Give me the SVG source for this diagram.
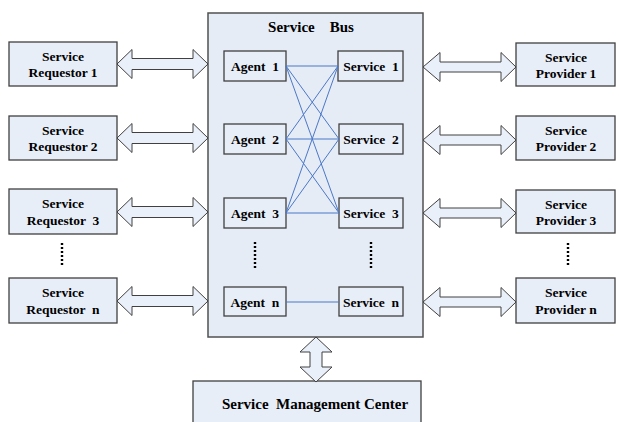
<svg xmlns="http://www.w3.org/2000/svg" width="619" height="422" viewBox="0 0 619 422" font-family="'Liberation Serif', 'Times New Roman', serif">
  <defs>
    <style>
      .box { fill: #e8eef8; stroke: #404040; stroke-width: 1.3; }
      .bus { fill: #e6ecf6; stroke: #505050; stroke-width: 1.5; }
      .arrow { fill: #eaf0f9; stroke: #404040; stroke-width: 1; }
      .link { stroke: #4a78c8; stroke-width: 1; fill: none; }
      .dots { stroke: #000; stroke-width: 2.4; stroke-dasharray: 2 2; fill: none; }
      .t { font-family: 'Liberation Serif', 'Times New Roman', serif; font-weight: bold; font-size: 13.5px; fill: #000; text-anchor: middle; white-space: pre; }
      .title { font-size: 15px; }
      .mc { font-size: 15px; }
    </style>
    <!-- horizontal double-headed block arrows -->
    <path id="harrowL" class="arrow" d="M0,0 L15,-14.5 L15,-5.5 L76,-5.5 L76,-14.5 L91,0 L76,14.5 L76,5.5 L15,5.5 L15,14.5 Z"/>
    <path id="harrowR" class="arrow" d="M0,0 L17,-14.5 L17,-5 L78,-5 L78,-14.5 L93,0 L78,14.5 L78,5 L17,5 L17,14.5 Z"/>
  </defs>

  <!-- bus container -->
  <g id="service-bus">
    <rect class="bus" x="208" y="13" width="215" height="324"/>
    <text class="t title" x="311" y="32">Service    Bus</text>
  </g>

  <!-- requestors -->
  <g id="requestor-1"><rect class="box" x="9" y="42" width="108" height="44"/><text class="t" x="63" y="61">Service</text><text class="t" x="63" y="77">Requestor 1</text></g>
  <g id="requestor-2"><rect class="box" x="9" y="116" width="108" height="44"/><text class="t" x="63" y="135">Service</text><text class="t" x="63" y="151">Requestor 2</text></g>
  <g id="requestor-3"><rect class="box" x="9" y="189" width="108" height="45"/><text class="t" x="63" y="208">Service</text><text class="t" x="63" y="225">Requestor  3</text></g>
  <g id="requestor-n"><rect class="box" x="9" y="278" width="108" height="45"/><text class="t" x="63" y="297">Service</text><text class="t" x="63" y="314">Requestor  n</text></g>

  <!-- providers -->
  <g id="provider-1"><rect class="box" x="516" y="43" width="99" height="43"/><text class="t" x="566" y="62">Service</text><text class="t" x="566" y="78">Provider 1</text></g>
  <g id="provider-2"><rect class="box" x="516" y="116" width="99" height="44"/><text class="t" x="566" y="135">Service</text><text class="t" x="566" y="151">Provider 2</text></g>
  <g id="provider-3"><rect class="box" x="516" y="190" width="99" height="43"/><text class="t" x="566" y="209">Service</text><text class="t" x="566" y="225">Provider 3</text></g>
  <g id="provider-n"><rect class="box" x="516" y="278" width="99" height="45"/><text class="t" x="566" y="297">Service</text><text class="t" x="566" y="314">Provider n</text></g>

  <!-- agents -->
  <g id="agent-1"><rect class="box" x="224" y="51" width="62" height="30"/><text class="t" x="255" y="71">Agent  1</text></g>
  <g id="agent-2"><rect class="box" x="224" y="124" width="62" height="30"/><text class="t" x="255" y="144">Agent  2</text></g>
  <g id="agent-3"><rect class="box" x="224" y="198" width="62" height="30"/><text class="t" x="255" y="218">Agent  3</text></g>
  <g id="agent-n"><rect class="box" x="224" y="287" width="62" height="29"/><text class="t" x="255" y="307">Agent  n</text></g>

  <!-- services -->
  <g id="service-1"><rect class="box" x="338" y="51" width="65" height="30"/><text class="t" x="371" y="71">Service  1</text></g>
  <g id="service-2"><rect class="box" x="339" y="124" width="64" height="30"/><text class="t" x="371" y="144">Service  2</text></g>
  <g id="service-3"><rect class="box" x="339" y="198" width="64" height="30"/><text class="t" x="371" y="218">Service  3</text></g>
  <g id="service-n"><rect class="box" x="339" y="287" width="64" height="29"/><text class="t" x="371" y="307">Service  n</text></g>

  <!-- management center -->
  <g id="management-center">
    <rect class="box" x="193" y="381" width="228" height="50"/>
    <text class="t mc" x="315" y="409">Service  Management Center</text>
  </g>

  <!-- connectors -->
  <g id="connectors">
    <use href="#harrowL" x="117" y="64"/>
    <use href="#harrowL" x="117" y="138"/>
    <use href="#harrowL" x="117" y="212"/>
    <use href="#harrowL" x="117" y="301"/>
    <use href="#harrowR" x="423" y="67"/>
    <use href="#harrowR" x="423" y="140"/>
    <use href="#harrowR" x="423" y="213"/>
    <use href="#harrowR" x="423" y="302"/>
    <!-- vertical arrow between bus and management center -->
    <path class="arrow" d="M316,337 L332,352 L322,352 L322,367 L332,367 L316,382 L300,367 L310,367 L310,352 L300,352 Z"/>
    <!-- agent to service mesh -->
    <path class="link" d="M286,66 L338,66 M286,66 L339,139 M286,66 L339,213
                          M286,139 L338,66 M286,139 L339,139 M286,139 L339,213
                          M286,213 L338,66 M286,213 L339,139 M286,213 L339,213
                          M286,302 L339,302"/>
    <!-- ellipsis columns -->
    <path class="dots" d="M62,243 V267 M255,242 V268 M371,242 V268 M568,243 V267"/>
  </g>
</svg>
